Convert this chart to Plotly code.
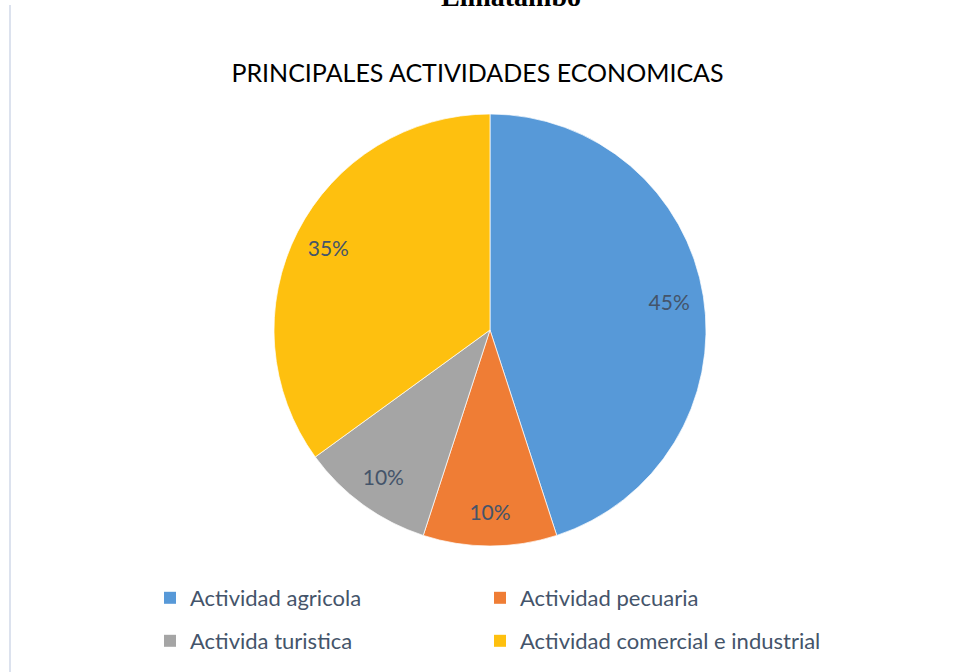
import plotly.graph_objects as go

categories = ["Actividad agricola", "Actividad pecuaria", "Activida turistica", "Actividad comercial e industrial"]
values = [45, 10, 10, 35]
colors = ["#5799D8", "#EF7D35", "#A5A5A5", "#FEC00F"]
title_text = "PRINCIPALES ACTIVIDADES ECONOMICAS"
top_text = "Limatambo"

W, H = 961, 672
cx, cy, R = 490, 330, 216
dom_x = [(cx - R) / W, (cx + R) / W]
dom_y = [(H - (cy + R)) / H, (H - (cy - R)) / H]

fig = go.Figure()

# main pie
fig.add_trace(go.Pie(
    labels=categories, values=values, sort=False, direction="clockwise", rotation=0,
    marker=dict(colors=colors, line=dict(color="white", width=0.7)),
    textinfo="none", hoverinfo="label+percent", showlegend=False,
    domain=dict(x=dom_x, y=dom_y),
))

# transparent ring only used to position the percentage labels out near the rim
fig.add_trace(go.Pie(
    labels=categories, values=values, sort=False, direction="clockwise", rotation=0,
    hole=0.68,
    marker=dict(colors=["rgba(0,0,0,0)"] * len(values), line=dict(width=0)),
    texttemplate="%{percent:.0%}", textposition="inside", insidetextorientation="horizontal",
    textfont=dict(family="Lato", size=21, color="#44546A"),
    hoverinfo="skip", showlegend=False,
    domain=dict(x=dom_x, y=dom_y),
))

# legend entries: one small legend per entry, arranged in a 2x2 grid
legend_names = ["legend", "legend2", "legend3", "legend4"]
for name, col, lg in zip(categories, colors, legend_names):
    fig.add_trace(go.Scatter(
        x=[None], y=[None], mode="markers", name=name,
        marker=dict(symbol="square", size=12, color=col),
        legend=lg, hoverinfo="skip",
    ))

legend_common = dict(
    font=dict(family="Lato", size=22, color="#44546A"),
    bgcolor="rgba(0,0,0,0)", xanchor="left", yanchor="middle",
)
col_x = [150 / W, 480 / W]
row_y = [1 - 598 / H, 1 - 641 / H]

fig.update_layout(
    width=W, height=H,
    margin=dict(l=0, r=0, t=0, b=0),
    paper_bgcolor="white", plot_bgcolor="white",
    xaxis=dict(visible=False), yaxis=dict(visible=False),
    title=dict(text=title_text, x=477.5 / W, xanchor="center", y=1 - 73 / H, yanchor="middle",
               font=dict(family="Lato", size=25, color="#000000")),
    legend=dict(**legend_common, x=col_x[0], y=row_y[0]),
    legend2=dict(**legend_common, x=col_x[1], y=row_y[0]),
    legend3=dict(**legend_common, x=col_x[0], y=row_y[1]),
    legend4=dict(**legend_common, x=col_x[1], y=row_y[1]),
    annotations=[dict(text="<b>" + top_text + "</b>", xref="paper", yref="paper",
                      x=511 / W, y=1 - 14 / H, xanchor="center", yanchor="bottom",
                      showarrow=False, font=dict(family="Liberation Serif", size=28, color="#000000"))],
    shapes=[dict(type="line", xref="paper", yref="paper", x0=10 / W, x1=10 / W,
                 y0=0, y1=1 - 5 / H, line=dict(color="#DCE2EE", width=2))],
)

fig.write_html("out.html", config={"displayModeBar": False},
               post_script="document.body.style.margin='0';")
